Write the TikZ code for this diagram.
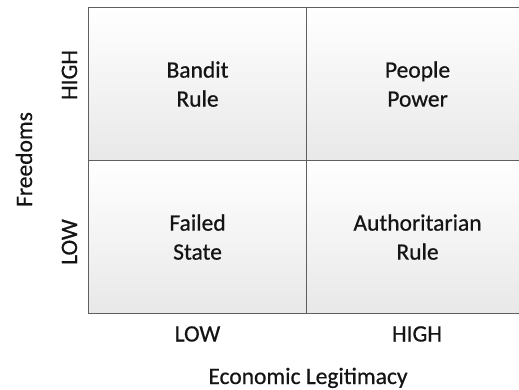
\documentclass[tikz,border=0pt]{standalone}
\usepackage{fontspec}
\setmainfont{Carlito}
\newfontfamily\heavyfont{Carlito}[FakeBold=0.6]
\definecolor{gridline}{RGB}{95,95,95}
\definecolor{cellgray}{RGB}{232,232,232}
\definecolor{txt}{RGB}{20,20,20}
\begin{document}
\begin{tikzpicture}[x=1pt,y=-1pt,
  cell/.style={draw=gridline, line width=1.1pt, top color=white, bottom color=cellgray,
    minimum height=153pt, inner sep=0pt, anchor=north west, align=center,
    font=\heavyfont\fontsize{23.5}{29}\selectfont, text=txt},
  lbl/.style={font=\heavyfont\fontsize{23.5}{29}\selectfont, text=txt, inner sep=0pt}]
\useasboundingbox (0,0) rectangle (519,390);
\clip (0,0) rectangle (519,390);
\fill[white] (0,0) rectangle (519,390);
\node[cell, minimum width=218pt] (tl) at (88,7) {Bandit\\Rule};
\node[cell, minimum width=222pt] (tr) at (306,7) {People\\Power};
\node[cell, minimum width=218pt] (bl) at (88,160) {Failed\\State};
\node[cell, minimum width=222pt] (br) at (306,160) {Authoritarian\\Rule};
\node[lbl, rotate=90, anchor=base] (yhigh) at (77,75) {HIGH};
\node[lbl, rotate=90, anchor=base] (ylow) at (77,242) {LOW};
\node[lbl, rotate=90, anchor=base] (ytitle) at (32,159.5) {Freedoms};
\node[lbl, anchor=base] (xlow) at (197.5,341.5) {LOW};
\node[lbl, anchor=base] (xhigh) at (417,341.5) {HIGH};
\node[lbl, anchor=base] (xtitle) at (308,384) {Economic Legitimacy};
\end{tikzpicture}
\end{document}
